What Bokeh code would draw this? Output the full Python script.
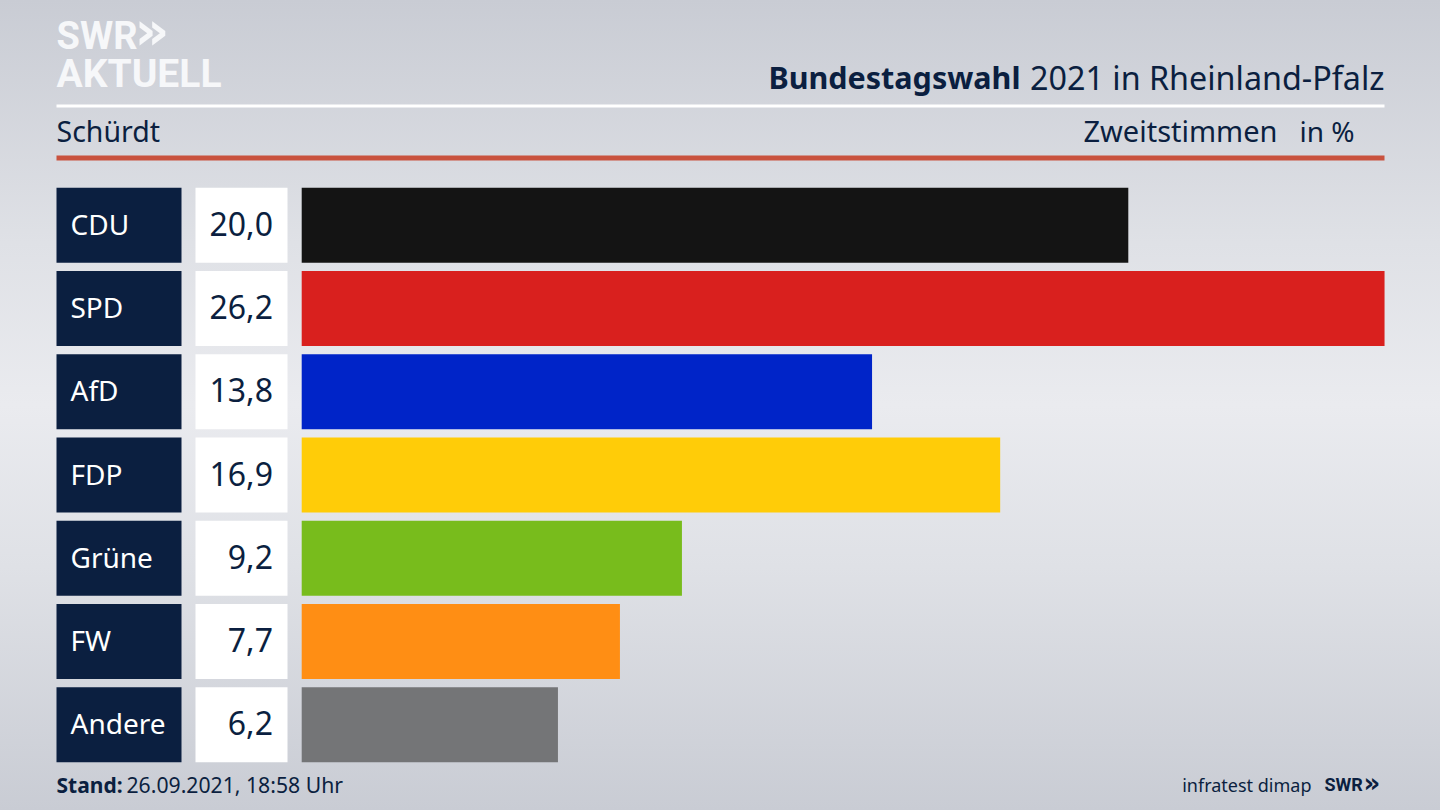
from bokeh.core.properties import value
from bokeh.embed import file_html
from bokeh.models import ColumnDataSource, Range1d
from bokeh.plotting import figure
from bokeh.resources import INLINE

# ---- data ----
parties = ["CDU", "SPD", "AfD", "FDP", "Grüne", "FW", "Andere"]
values = [20.0, 26.2, 13.8, 16.9, 9.2, 7.7, 6.2]
bar_colors = ["#141414", "#d9201e", "#0024c8", "#ffcc08", "#78bc1c", "#ff8e14", "#747577"]
title_bold = "Bundestagswahl"
title_rest = "2021 in Rheinland-Pfalz"
place = "Schürdt"
measure = "Zweitstimmen"
unit = "in %"
stand_bold = "Stand:"
stand_rest = "26.09.2021, 18:58 Uhr"
source_name = "infratest dimap"

NAVY = "#0b1f40"
FONT = value("Noto Sans")
LOGO = value("Roboto")
CHEVRON = value("DejaVu Sans")
W, H = 1440, 810
X0, PX_PER_PCT = 301.2, 41.33
ROW0, ROW_STEP, ROW_H = 224.8, 83.25, 75.0

p = figure(
    width=W, height=H, output_backend="svg", toolbar_location=None,
    x_range=Range1d(-X0 / PX_PER_PCT, (W - X0) / PX_PER_PCT),
    y_range=Range1d((H - ROW0) / ROW_STEP, -ROW0 / ROW_STEP),
    min_border=0, outline_line_color=None,
    background_fill_alpha=0, border_fill_alpha=0,
)
p.axis.visible = False
p.grid.visible = False
p.extra_x_ranges = {"px": Range1d(0, W)}
p.extra_y_ranges = {"px": Range1d(H, 0)}
PX = dict(x_range_name="px", y_range_name="px")

rows = list(range(len(parties)))
src = ColumnDataSource(dict(
    row=rows, party=parties, value=values, color=bar_colors,
    label=[f"{v:.1f}".replace(".", ",") for v in values],
    text_row=[r - 1.5 / ROW_STEP for r in rows],
))
row_h = ROW_H / ROW_STEP

# bars in percent units
p.hbar(y="row", left=0, right="value", height=row_h, color="color", line_color=None, source=src)

# party and value boxes: same rows, pixel-sized on x
p.hbar(y="row", left=(56 - X0) / PX_PER_PCT, right=(181 - X0) / PX_PER_PCT, height=row_h,
       color=NAVY, line_color=None, source=src)
p.hbar(y="row", left=(195 - X0) / PX_PER_PCT, right=(287 - X0) / PX_PER_PCT, height=row_h,
       color="#ffffff", line_color=None, source=src)
p.text(x=(70 - X0) / PX_PER_PCT, y="text_row", text="party", source=src, text_color="#ffffff",
       text_font=FONT, text_font_size="28px", text_align="left", text_baseline="middle")
p.text(x=(272.5 - X0) / PX_PER_PCT, y="text_row", text="label", source=src, text_color=NAVY,
       text_font=FONT, text_font_size="32px", text_align="right", text_baseline="middle")

# header rules
p.quad(left=56, right=1384, top=104, bottom=107, color="#ffffff", line_color=None, **PX)
p.quad(left=56, right=1384, top=155, bottom=160, color="#c9523e", line_color=None, **PX)


def txt(x, y, s, size, color=NAVY, align="left", style="normal", font=FONT):
    p.text(x=[x], y=[y], text=[s], text_color=color, text_font=font, text_font_size=f"{size}px",
           text_font_style=style, text_align=align, text_baseline="alphabetic", **PX)


# logo
txt(56, 35, "SWR", 38, "#f6f7f9", style="bold", font=LOGO)
txt(134, 30, "»", 54, "#f6f7f9", style="bold", font=CHEVRON)
txt(56, 73, "AKTUELL", 39, "#f6f7f9", style="bold", font=LOGO)

# headings
txt(1020, 76, title_bold, 30.5, style="bold", align="right")
txt(1384, 76, title_rest, 32.3, align="right")
txt(56, 130, place, 28.5)
txt(1277, 130, measure, 29, align="right")
txt(1354, 130, unit, 28, align="right")

# footer
txt(56, 784, stand_bold, 21, style="bold")
txt(126, 784, stand_rest, 21.2)
txt(1311, 784, source_name, 18, align="right")
txt(1324, 784, "SWR", 18, style="bold", font=LOGO)
txt(1363, 782, "»", 26, style="bold", font=CHEVRON)

html = file_html(p, INLINE)
html = html.replace(
    "</head>",
    "<style>html{min-height:100%;background:linear-gradient(180deg,#c9ccd4 0%,#dfe1e6 30%,"
    "#eaebef 50%,#dfe1e6 70%,#c9ccd4 100%);}body{background:transparent !important;}</style></head>",
    1,
)
open("out.html", "w").write(html)
